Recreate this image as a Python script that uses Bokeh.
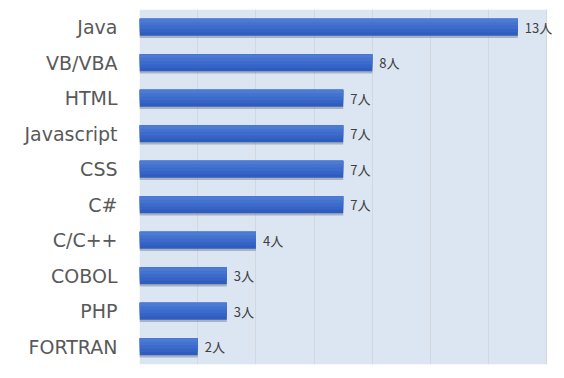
from bokeh.plotting import figure
from bokeh.models import FactorRange, FixedTicker, ColumnDataSource, BoxAnnotation
from bokeh.transform import dodge
from bokeh.core.properties import value
from bokeh.embed import file_html
from bokeh.resources import INLINE

categories = ["Java", "VB/VBA", "HTML", "Javascript", "CSS", "C#", "C/C++", "COBOL", "PHP", "FORTRAN"]
counts = [13, 8, 7, 7, 7, 7, 4, 3, 3, 2]
labels = [f"{c}人" for c in counts]
grid_ticks = [0, 2, 4, 6, 8, 10, 12, 14]
axis_max = 14

src = ColumnDataSource(dict(cat=categories, val=counts, lab=labels))

p = figure(width=562, height=370, output_backend="svg", toolbar_location=None,
           y_range=FactorRange(*reversed(categories)), x_range=(0, axis_max + 0.5),
           min_border_left=139, min_border_right=1, min_border_top=9, min_border_bottom=6)

p.background_fill_color = "white"
p.border_fill_color = "white"
p.outline_line_color = None

# plot-area background only up to axis maximum
p.add_layout(BoxAnnotation(left=0, right=axis_max, fill_color="#dce6f2", fill_alpha=1,
                           line_color=None, level="image"))

p.xaxis.visible = False
p.xaxis.ticker = FixedTicker(ticks=grid_ticks)
p.xgrid.ticker = FixedTicker(ticks=grid_ticks)
p.xgrid.grid_line_color = "#d4d8de"
p.xgrid.grid_line_width = 1
p.ygrid.grid_line_color = None

yax = p.yaxis[0]
yax.axis_line_color = None
yax.major_tick_line_color = None
yax.minor_tick_line_color = None
yax.major_tick_out = 0
yax.major_tick_in = 0
yax.major_label_text_font = "DejaVu Sans"
yax.major_label_text_font_size = "19px"
yax.major_label_text_color = "#595959"
yax.major_label_standoff = 22

H = 0.48
# shadow
p.hbar(y=dodge("cat", -0.06, range=p.y_range), left=0, right="val", height=H,
       source=src, fill_color="#5d6578", fill_alpha=0.4, line_color=None)
# gradient approximated by layered bars (darker bottom, lighter top)
layers = [(1.0, "#2f5cbf"), (0.8, "#3664c6"), (0.6, "#3d6bcb"), (0.4, "#4473cf"), (0.2, "#4d7bd4")]
for frac, col in layers:
    h = H * frac
    p.hbar(y=dodge("cat", H / 2 - h / 2, range=p.y_range), left=0, right="val", height=h,
           source=src, fill_color=col, line_color=None)

p.text(x="val", y="cat", text="lab", source=src, x_offset=7,
       text_font=value("Noto Sans CJK JP"), text_font_size="13px",
       text_color="#404040", text_baseline="middle", text_align="left")

open("out.html", "w").write(file_html(p, INLINE))
